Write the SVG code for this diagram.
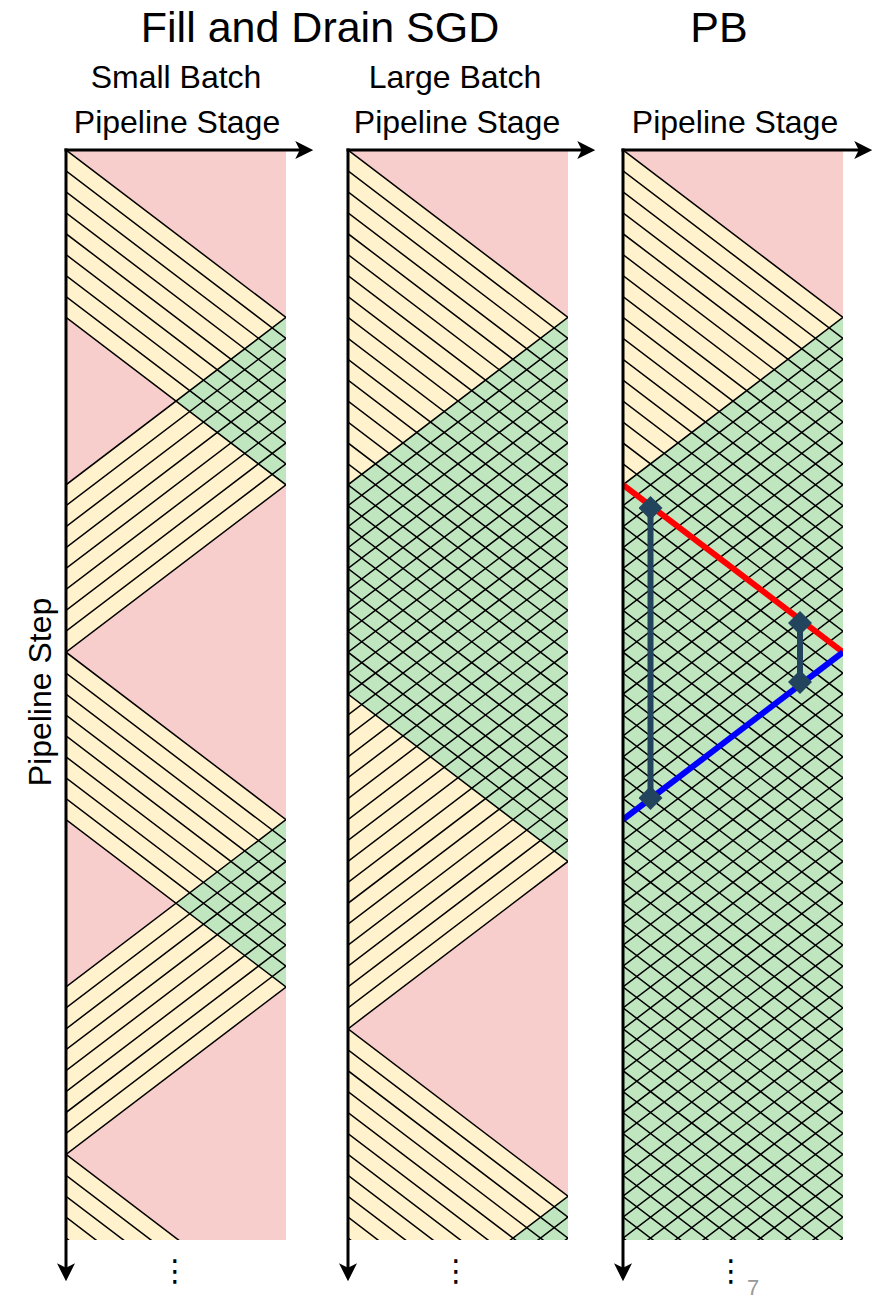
<svg xmlns="http://www.w3.org/2000/svg" xmlns:xlink="http://www.w3.org/1999/xlink" width="884" height="1300" viewBox="0 0 884 1300">
<style>
.t{font-family:"Liberation Sans",Arial,Helvetica,sans-serif;fill:#000;text-anchor:middle}
.pink{fill:#f8cecc}
.yel{fill:#fff2cc}
.grn{fill:#c0e6c0}
.hatch{fill:none;stroke:#000;stroke-width:1.5}
.axis{fill:none;stroke:#000;stroke-width:3}
.mk{stroke:#23445d;stroke-width:6;fill:none}
.dots{font-family:"DejaVu Sans",sans-serif;font-size:30px;text-anchor:middle;fill:#000}
</style>
<defs>
<clipPath id="cS"><rect x="66" y="150" width="220" height="1090"/></clipPath>
<clipPath id="cL"><rect x="348" y="150" width="220" height="1090"/></clipPath>
<clipPath id="cP"><rect x="623" y="150" width="220" height="1090"/></clipPath>
<marker id="arr" markerUnits="userSpaceOnUse" markerWidth="18" markerHeight="18" viewBox="0 0 16 16" refX="6" refY="8" orient="auto"><path d="M0 0L16 8L0 16L4 8Z" fill="#000"/></marker>
<marker id="dia" markerUnits="userSpaceOnUse" markerWidth="24" markerHeight="24" viewBox="0 0 24 24" refX="12" refY="12" orient="0"><path d="M12 0L24 12L12 24L0 12Z" fill="#23445d"/></marker>
<path id="f9" d="M0 0L220 167.4M0 20.925L220 188.325M0 41.85L220 209.25M0 62.775L220 230.175M0 83.7L220 251.1M0 104.625L220 272.025M0 125.55L220 292.95M0 146.475L220 313.875M0 167.4L220 334.8"/>
<path id="b9" d="M220 0L0 167.4M220 20.925L0 188.325M220 41.85L0 209.25M220 62.775L0 230.175M220 83.7L0 251.1M220 104.625L0 272.025M220 125.55L0 292.95M220 146.475L0 313.875M220 167.4L0 334.8"/>
<path id="f27" d="M0 0L220 167.4M0 20.925L220 188.325M0 41.85L220 209.25M0 62.775L220 230.175M0 83.7L220 251.1M0 104.625L220 272.025M0 125.55L220 292.95M0 146.475L220 313.875M0 167.4L220 334.8M0 188.325L220 355.725M0 209.25L220 376.65M0 230.175L220 397.575M0 251.1L220 418.5M0 272.025L220 439.425M0 292.95L220 460.35M0 313.875L220 481.275M0 334.8L220 502.2M0 355.725L220 523.125M0 376.65L220 544.05M0 397.575L220 564.975M0 418.5L220 585.9M0 439.425L220 606.825M0 460.35L220 627.75M0 481.275L220 648.675M0 502.2L220 669.6M0 523.125L220 690.525M0 544.05L220 711.45"/>
<path id="b27" d="M220 0L0 167.4M220 20.925L0 188.325M220 41.85L0 209.25M220 62.775L0 230.175M220 83.7L0 251.1M220 104.625L0 272.025M220 125.55L0 292.95M220 146.475L0 313.875M220 167.4L0 334.8M220 188.325L0 355.725M220 209.25L0 376.65M220 230.175L0 397.575M220 251.1L0 418.5M220 272.025L0 439.425M220 292.95L0 460.35M220 313.875L0 481.275M220 334.8L0 502.2M220 355.725L0 523.125M220 376.65L0 544.05M220 397.575L0 564.975M220 418.5L0 585.9M220 439.425L0 606.825M220 460.35L0 627.75M220 481.275L0 648.675M220 502.2L0 669.6M220 523.125L0 690.525M220 544.05L0 711.45"/>
</defs>

<g id="titles">
<text class="t" x="320" y="42" font-size="43">Fill and Drain SGD</text>
<text class="t" x="719" y="42" font-size="43">PB</text>
<text class="t" x="176" y="88" font-size="32">Small Batch</text>
<text class="t" x="455" y="88" font-size="32">Large Batch</text>
<text class="t" x="177" y="133" font-size="32">Pipeline Stage</text>
<text class="t" x="457" y="133" font-size="32">Pipeline Stage</text>
<text class="t" x="735" y="133" font-size="32">Pipeline Stage</text>
<text class="t" x="0" y="0" font-size="32" transform="translate(51 692) rotate(-90)">Pipeline Step</text>
</g>

<g id="panel-small" clip-path="url(#cS)">
<rect class="pink" x="66" y="150" width="220" height="1090"/>
<polygon class="yel" points="66,150 286,317.4 286,484.8 66,317.4"/>
<polygon class="yel" points="286,317.4 66,484.8 66,652.2 286,484.8"/>
<polygon class="grn" points="286,317.4 286,484.8 176,401.1"/>
<polygon class="yel" points="66,652.2 286,819.6 286,987 66,819.6"/>
<polygon class="yel" points="286,819.6 66,987 66,1154.4 286,987"/>
<polygon class="grn" points="286,819.6 286,987 176,903.3"/>
<polygon class="yel" points="66,1154.4 286,1321.8 286,1489.2 66,1321.8"/>
<g class="hatch">
<use xlink:href="#f9" href="#f9" x="66" y="150"/>
<use xlink:href="#b9" href="#b9" x="66" y="317.4"/>
<use xlink:href="#f9" href="#f9" x="66" y="652.2"/>
<use xlink:href="#b9" href="#b9" x="66" y="819.6"/>
<use xlink:href="#f9" href="#f9" x="66" y="1154.4"/>
</g>
</g>

<g id="panel-large" clip-path="url(#cL)">
<rect class="pink" x="348" y="150" width="220" height="1090"/>
<polygon class="yel" points="348,150 568,317.4 568,861.45 348,694.05"/>
<polygon class="yel" points="568,317.4 348,484.8 348,1028.85 568,861.45"/>
<polygon class="grn" points="568,317.4 348,484.8 348,694.05 568,861.45"/>
<polygon class="yel" points="348,1028.85 568,1196.25 568,1740.3 348,1572.9"/>
<polygon class="grn" points="568,1196.25 348,1363.65 348,1572.9 568,1740.3"/>
<g class="hatch">
<use xlink:href="#f27" href="#f27" x="348" y="150"/>
<use xlink:href="#b27" href="#b27" x="348" y="317.4"/>
<use xlink:href="#f27" href="#f27" x="348" y="1028.85"/>
<use xlink:href="#b27" href="#b27" x="348" y="1196.25"/>
</g>
</g>

<g id="panel-pb" clip-path="url(#cP)">
<rect class="pink" x="623" y="150" width="220" height="1090"/>
<polygon class="yel" points="623,150 843,317.4 843,1240 623,1240"/>
<polygon class="grn" points="843,317.4 623,484.8 623,1240 843,1240"/>
<g class="hatch">
<use xlink:href="#f27" href="#f27" x="623" y="150"/>
<use xlink:href="#f27" href="#f27" x="623" y="714.975"/>
<use xlink:href="#b27" href="#b27" x="623" y="317.4"/>
<use xlink:href="#b27" href="#b27" x="623" y="882.375"/>
</g>
<line x1="623" y1="484.8" x2="843" y2="652.2" stroke="#ff0000" stroke-width="6"/>
<line x1="623" y1="819.6" x2="843" y2="652.2" stroke="#0000ff" stroke-width="6"/>
</g>

<g id="connectors">
<line class="axis" x1="66" y1="148.5" x2="66" y2="1270" marker-end="url(#arr)"/>
<line class="axis" x1="64.5" y1="150" x2="302" y2="150" marker-end="url(#arr)"/>
<line class="axis" x1="348" y1="148.5" x2="348" y2="1270" marker-end="url(#arr)"/>
<line class="axis" x1="346.5" y1="150" x2="584" y2="150" marker-end="url(#arr)"/>
<line class="axis" x1="623" y1="148.5" x2="623" y2="1270" marker-end="url(#arr)"/>
<line class="axis" x1="621.5" y1="150" x2="861" y2="150" marker-end="url(#arr)"/>
<line class="mk" x1="650.5" y1="508" x2="650.5" y2="798" marker-start="url(#dia)" marker-end="url(#dia)"/>
<line class="mk" x1="800" y1="623" x2="800" y2="682" marker-start="url(#dia)" marker-end="url(#dia)"/>
</g>

<g id="ellipses">
<text class="dots" x="175" y="1281">⋮</text>
<text class="dots" x="456" y="1281">⋮</text>
<text class="dots" x="731" y="1281">⋮</text>
</g>
<text id="page-number" x="753" y="1295" font-size="22" fill="#999999" font-family="Liberation Sans,Arial,sans-serif" text-anchor="middle">7</text>
</svg>
